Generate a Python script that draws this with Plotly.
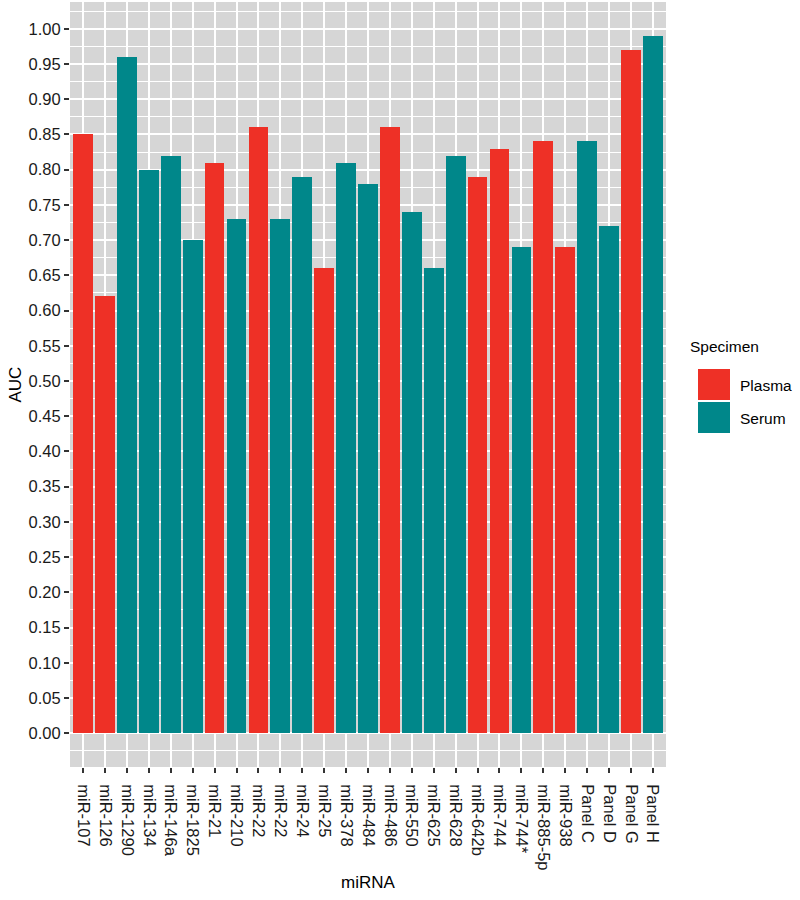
import plotly.graph_objects as go

labels = ["miR-107", "miR-126", "miR-1290", "miR-134", "miR-146a", "miR-1825",
          "miR-21", "miR-210", "miR-22", "miR-22", "miR-24", "miR-25", "miR-378",
          "miR-484", "miR-486", "miR-550", "miR-625", "miR-628", "miR-642b",
          "miR-744", "miR-744*", "miR-885-5p", "miR-938", "Panel C", "Panel D",
          "Panel G", "Panel H"]
auc = [0.85, 0.62, 0.96, 0.80, 0.82, 0.70, 0.81, 0.73, 0.86, 0.73, 0.79, 0.66,
       0.81, 0.78, 0.86, 0.74, 0.66, 0.82, 0.79, 0.83, 0.69, 0.84, 0.69, 0.84,
       0.72, 0.97, 0.99]
specimen = ["Plasma", "Plasma", "Serum", "Serum", "Serum", "Serum", "Plasma",
            "Serum", "Plasma", "Serum", "Serum", "Plasma", "Serum", "Serum",
            "Plasma", "Serum", "Serum", "Serum", "Plasma", "Plasma", "Serum",
            "Plasma", "Plasma", "Serum", "Serum", "Plasma", "Serum"]
groups = ["Plasma", "Serum"]
colors = {"Plasma": "#EE3026", "Serum": "#00878A"}
y_ticks = [round(i * 0.05, 2) for i in range(21)]

positions = list(range(len(labels)))

fig = go.Figure()
for g in groups:
    xs = [p for p, s in zip(positions, specimen) if s == g]
    ys = [v for v, s in zip(auc, specimen) if s == g]
    fig.add_trace(go.Bar(x=xs, y=ys, name=g, width=0.9,
                         marker=dict(color=colors[g], line=dict(width=0)),
                         showlegend=False))

font = "Liberation Sans, Arial, Helvetica, sans-serif"
tick_font = dict(size=16.5, color="#1a1a1a", family=font)

plot_l, plot_r, plot_t, plot_b = 70, 666, 2, 767
W, H = 800, 900

fig.update_layout(
    width=W, height=H,
    margin=dict(l=plot_l, r=W - plot_r, t=plot_t, b=H - plot_b),
    paper_bgcolor="white",
    plot_bgcolor="#D6D6D6",
    font=dict(family=font, size=15, color="#1a1a1a"),
    bargap=0,
    xaxis=dict(
        range=[-0.6, len(labels) - 0.4], automargin=False,
        tickmode="array", tickvals=positions, ticktext=labels,
        tickangle=90, ticks="outside", ticklen=5, tickwidth=1.5,
        tickcolor="#333333", showgrid=True, gridcolor="white", gridwidth=1.5,
        zeroline=False, showline=False, tickfont=tick_font,
        ticklabelstandoff=8,
    ),
    yaxis=dict(
        range=[-0.048, 1.038], automargin=False,
        tickmode="array", tickvals=y_ticks,
        ticktext=[f"{v:.2f}" for v in y_ticks],
        ticks="outside", ticklen=5, tickwidth=1.5, tickcolor="#333333",
        showgrid=True, gridcolor="white", gridwidth=1.5,
        minor=dict(dtick=0.025, tick0=0, showgrid=True, gridcolor="white",
                   gridwidth=1, ticks=""),
        zeroline=False, showline=False, tickfont=tick_font,
    ),
)

def px(x):
    return (x - plot_l) / (plot_r - plot_l)
def py(y):
    return (plot_b - y) / (plot_b - plot_t)

# axis titles
fig.add_annotation(x=px((plot_l + plot_r) / 2), y=py(883), xref="paper", yref="paper",
                   text="miRNA", showarrow=False, xanchor="center", yanchor="middle",
                   font=dict(size=17, color="black"))
fig.add_annotation(x=px(15), y=py((plot_t + plot_b) / 2), xref="paper", yref="paper",
                   text="AUC", showarrow=False, textangle=-90, xanchor="center",
                   yanchor="middle", font=dict(size=17, color="black"))

# legend drawn as shapes + text
fig.add_annotation(x=px(688), y=py(347), xref="paper", yref="paper",
                   text="Specimen", showarrow=False, xanchor="left",
                   yanchor="middle", font=dict(size=15.5, color="black"))
key_tops = [369, 402]
for g, top in zip(groups, key_tops):
    fig.add_shape(type="rect", xref="paper", yref="paper",
                  x0=px(698), x1=px(730), y0=py(top), y1=py(top + 31),
                  fillcolor=colors[g], line=dict(width=0))
    fig.add_annotation(x=px(738), y=py(top + 16), xref="paper", yref="paper",
                       text=g, showarrow=False, xanchor="left",
                       yanchor="middle", font=dict(size=15.5, color="black"))

fig.write_html("out.html", config={"displayModeBar": False},
               post_script="document.body.style.margin='0';document.body.style.padding='0';")
